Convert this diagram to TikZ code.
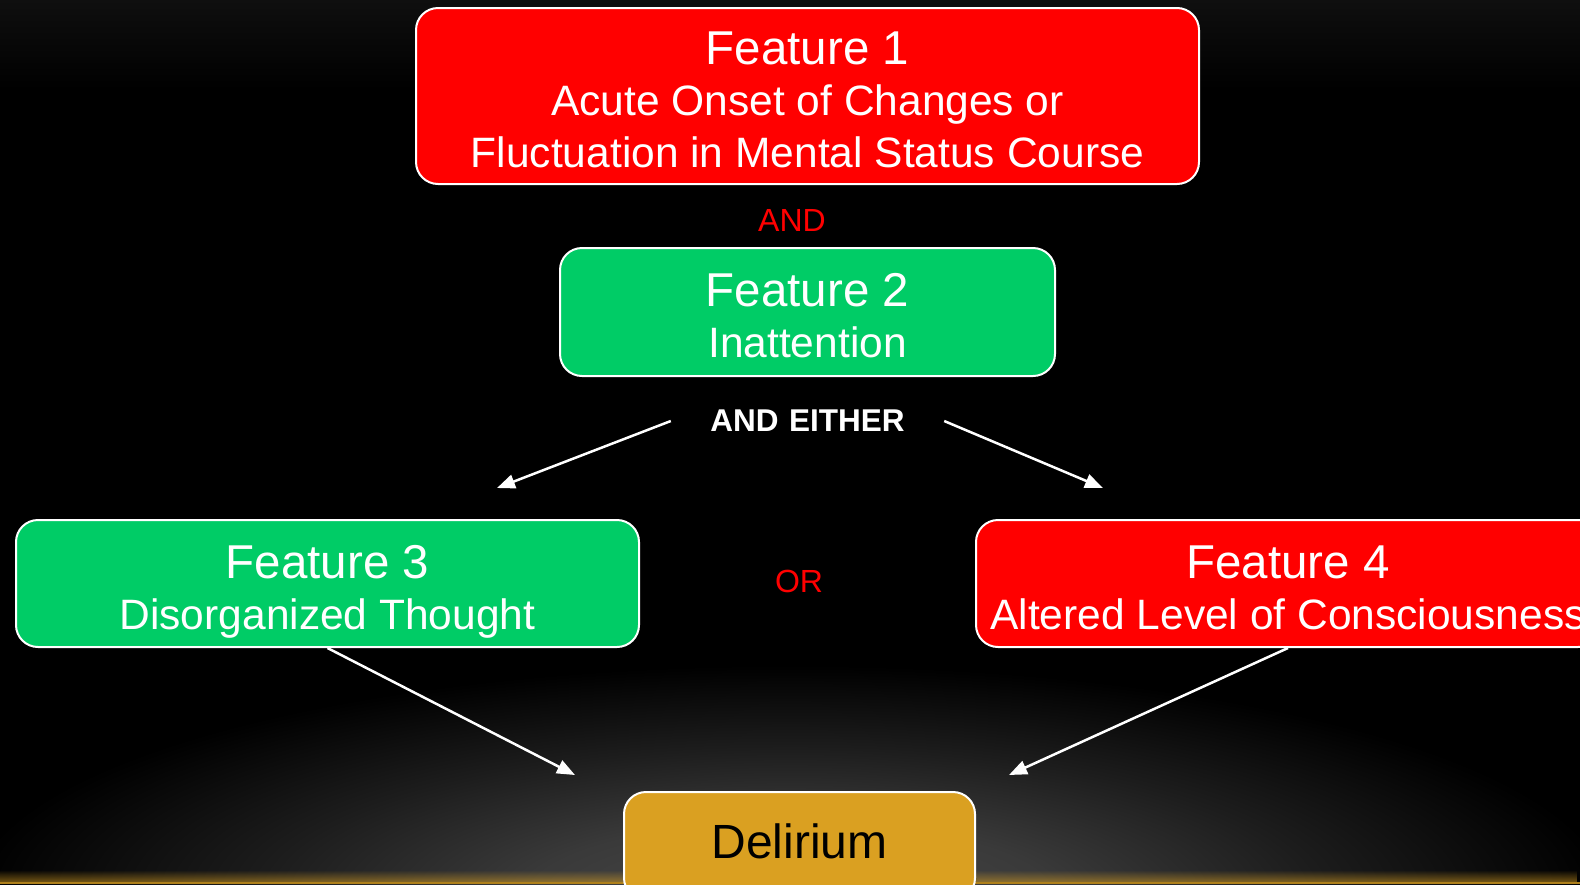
\documentclass[tikz,border=0pt]{standalone}
\usepackage{fontspec}
\setmainfont{Liberation Sans}
\usetikzlibrary{arrows.meta,fadings}
\definecolor{fred}{RGB}{255,0,0}
\definecolor{fgreen}{RGB}{0,204,102}
\definecolor{fgold}{RGB}{218,160,33}
\definecolor{glowgray}{RGB}{72,72,72}
\definecolor{topgray}{RGB}{15,15,15}
\pgfdeclareradialshading{bottomglow}{\pgfpoint{0bp}{0bp}}{color(0bp)=(glowgray); color(8bp)=(glowgray!80!black); color(16bp)=(glowgray!40!black); color(25bp)=(black); color(50bp)=(black)}
\tikzset{
  box/.style={draw=white, line width=2pt, rounded corners=22pt, text=white, align=center, inner sep=0pt},
  body/.style={font=\fontsize{42.5}{52}\selectfont},
  redlabel/.style={text=fred, font=\fontsize{32}{38}\selectfont, inner sep=0pt},
  arr/.style={draw=white, line width=2.5pt, -{Triangle[length=18pt,width=14pt]}}
}
\newcommand{\ftitle}[1]{{\fontsize{47.5}{52}\selectfont\rule{0pt}{50pt}#1}}
\newcommand{\lastl}{\rule[-10pt]{0pt}{0pt}}
\begin{document}
\begin{tikzpicture}[x=1pt,y=-1pt]
\useasboundingbox (0,0) rectangle (1580,884);
% background
\fill[black] (0,0) rectangle (1580,884);
\shade[top color=topgray, bottom color=black] (0,0) rectangle (1580,90);
\begin{scope}
  \clip (0,0) rectangle (1580,884);
  \shade[shading=bottomglow] (790,895) ellipse [x radius=820, y radius=230];
  \fill[fgold, path fading=north, opacity=0.6] (0,870) rectangle (1580,884);
  \fill[fgold!80!black] (0,882) rectangle (1580,884);
\end{scope}
% boxes
\node[box, body, fill=fred, minimum width=783, minimum height=176] (f1) at (807.5,96)
  {\ftitle{Feature 1}\\[-1pt]Acute Onset of Changes or\\Fluctuation in Mental Status Course\lastl};
\node[redlabel] (and) at (792,220) {AND};
\node[box, body, fill=fgreen, minimum width=495, minimum height=128] (f2) at (807.5,312)
  {\ftitle{Feature 2}\\[-1pt]Inattention\lastl};
\node[text=white, font=\fontsize{31.5}{36}\selectfont\bfseries, text width=273, align=center, inner sep=0pt] (either) at (807.5,421) {AND EITHER};
\node[box, body, fill=fgreen, minimum width=623, minimum height=127] (f3) at (327.5,583.5)
  {\ftitle{Feature 3}\\[-1pt]Disorganized Thought\lastl};
\node[redlabel] (or) at (799,581) {OR};
\node[box, body, fill=fred, minimum width=624, minimum height=127] (f4) at (1288,583.5)
  {\ftitle{Feature 4}\\[-1pt]Altered Level of Consciousness\lastl};
\node[box, fill=fgold, text=black, font=\fontsize{48}{56}\selectfont, minimum width=351, minimum height=108] (del) at (799.5,846) {Delirium\rule[-10pt]{0pt}{0pt}};
% arrow ends
\coordinate (la) at (497,488);
\coordinate (ra) at (1103,488);
\coordinate (dl) at (575,775);
\coordinate (dr) at (1009,775);
\draw[arr] (either.west) -- (la);
\draw[arr] (either.east) -- (ra);
\draw[arr] (f3.south) -- (dl);
\draw[arr] (f4.south) -- (dr);
\end{tikzpicture}
\end{document}
